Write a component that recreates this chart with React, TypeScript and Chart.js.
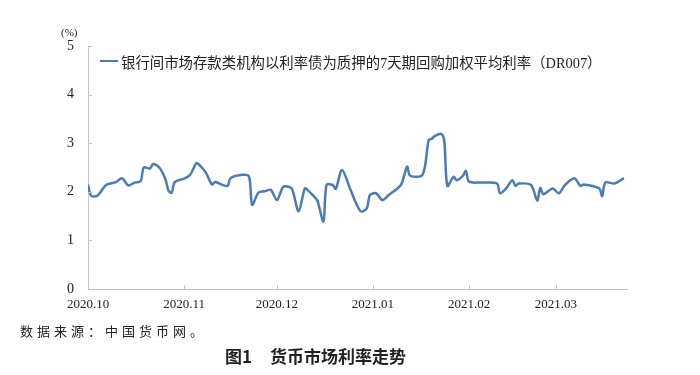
import React, { useEffect, useRef } from "react";
import { Chart, registerables } from "chart.js";

Chart.register(...registerables);

// DR007 daily readings (date, %)
const dates: string[] = [
  "2020-10-01", "2020-10-02", "2020-10-04", "2020-10-06", "2020-10-07", "2020-10-10",
  "2020-10-12", "2020-10-14", "2020-10-16", "2020-10-18", "2020-10-19", "2020-10-21",
  "2020-10-22", "2020-10-24", "2020-10-26", "2020-10-27", "2020-10-28", "2020-10-29",
  "2020-11-01", "2020-11-03", "2020-11-05", "2020-11-06", "2020-11-08", "2020-11-10",
  "2020-11-11", "2020-11-15", "2020-11-16", "2020-11-20", "2020-11-22", "2020-11-23",
  "2020-11-25", "2020-11-27", "2020-11-29", "2020-12-01", "2020-12-03", "2020-12-05",
  "2020-12-06", "2020-12-08", "2020-12-10", "2020-12-11", "2020-12-13", "2020-12-14",
  "2020-12-16", "2020-12-17", "2020-12-19", "2020-12-20", "2020-12-22", "2020-12-25",
  "2020-12-28", "2020-12-30", "2020-12-31", "2021-01-02", "2021-01-04", "2021-01-06",
  "2021-01-10", "2021-01-12", "2021-01-13", "2021-01-17", "2021-01-19", "2021-01-20",
  "2021-01-21", "2021-01-23", "2021-01-24", "2021-01-25", "2021-01-27", "2021-01-28",
  "2021-01-30", "2021-01-31", "2021-02-01", "2021-02-05", "2021-02-10", "2021-02-11",
  "2021-02-13", "2021-02-15", "2021-02-16", "2021-02-17", "2021-02-21", "2021-02-23",
  "2021-02-24", "2021-02-25", "2021-02-28", "2021-03-02", "2021-03-04", "2021-03-07",
  "2021-03-09", "2021-03-10", "2021-03-15", "2021-03-16", "2021-03-17", "2021-03-20",
  "2021-03-23",
];
const dr007: number[] = [
  2.15, 1.92, 1.92, 2.08, 2.15, 2.2,
  2.28, 2.13, 2.19, 2.22, 2.5, 2.48,
  2.57, 2.5, 2.26, 2.02, 1.98, 2.2,
  2.27, 2.35, 2.59, 2.55, 2.4, 2.15,
  2.2, 2.12, 2.28, 2.35, 2.31, 1.73,
  1.98, 2.01, 2.04, 1.83, 2.1, 2.1,
  2.04, 1.6, 2.07, 2.03, 1.9, 1.83,
  1.39, 2.14, 2.14, 2.06, 2.45, 2.0,
  1.6, 1.66, 1.93, 1.97, 1.83, 1.93,
  2.14, 2.52, 2.33, 2.35, 3.07, 3.09,
  3.15, 3.19, 3.05, 2.12, 2.31, 2.24,
  2.33, 2.43, 2.21, 2.19, 2.17, 1.97,
  2.07, 2.24, 2.12, 2.17, 2.14, 1.82,
  2.08, 1.95, 2.07, 1.97, 2.14, 2.28,
  2.12, 2.15, 2.07, 1.91, 2.19, 2.17,
  2.28,
];

const tickDates: string[] = ["2020-10-01", "2020-11-01", "2020-12-01", "2021-01-01", "2021-02-01", "2021-03-01"];
const tickLabels: string[] = ["2020.10", "2020.11", "2020.12", "2021.01", "2021.02", "2021.03"];
const axisEndDate = "2021-03-24";
const yTicks: number[] = [0, 1, 2, 3, 4, 5];

const seriesName = "银行间市场存款类机构以利率债为质押的7天期回购加权平均利率（DR007）";
const sourceNote = "数据来源：中国货币网。";
const figureTitle = "图1";
const figureName = "货币市场利率走势";

const ORIGIN = Date.UTC(2020, 9, 1);
function dayOf(s: string): number {
  const [y, m, d] = s.split("-").map(Number);
  return Math.round((Date.UTC(y, m - 1, d) - ORIGIN) / 86400000);
}

const LINE = "#4a7cb8";
const AXIS = "#c4c4c4";
const SERIF = "'Liberation Serif', 'Times New Roman', serif";

const innerTicks = {
  id: "innerTicks",
  afterDraw(chart: any) {
    const { ctx, chartArea, scales } = chart;
    ctx.save();
    ctx.strokeStyle = AXIS;
    ctx.lineWidth = 1;
    scales.x.ticks.forEach((t: any) => {
      const px = Math.round(scales.x.getPixelForValue(t.value)) + 0.5;
      ctx.beginPath();
      ctx.moveTo(px, chartArea.bottom);
      ctx.lineTo(px, chartArea.bottom - 4);
      ctx.stroke();
    });
    scales.y.ticks.forEach((t: any) => {
      const py = Math.round(scales.y.getPixelForValue(t.value)) + 0.5;
      ctx.beginPath();
      ctx.moveTo(chartArea.left, py);
      ctx.lineTo(chartArea.left + 4, py);
      ctx.stroke();
    });
    ctx.restore();
  },
};

export default function App() {
  const ref = useRef<HTMLCanvasElement | null>(null);

  useEffect(() => {
    if (!ref.current) return;
    const points = dates.map((d, i) => ({ x: dayOf(d), y: dr007[i] }));
    const tickDays = tickDates.map(dayOf);
    const chart = new Chart(ref.current, {
      type: "line",
      data: {
        datasets: [
          {
            label: seriesName,
            data: points,
            borderColor: LINE,
            borderWidth: 2.5,
            pointRadius: 0,
            tension: 0.3,
            fill: false,
          },
        ],
      },
      options: {
        responsive: false,
        animation: false,
        devicePixelRatio: 1,
        layout: { padding: { left: 0, right: 73, top: 46, bottom: 56 } },
        plugins: { legend: { display: false }, tooltip: { enabled: false } },
        scales: {
          x: {
            type: "linear",
            min: 0,
            max: dayOf(axisEndDate),
            afterBuildTicks: (scale: any) => {
              scale.ticks = tickDays.map((v) => ({ value: v }));
            },
            afterFit: (scale: any) => {
              scale.height = 30;
            },
            grid: { display: false, drawTicks: false },
            border: { display: true, color: AXIS, width: 1 },
            ticks: {
              autoSkip: false,
              maxRotation: 0,
              padding: 8,
              color: "#222",
              font: { family: SERIF, size: 13 },
              callback: (v: any) => {
                const i = tickDays.indexOf(Number(v));
                return i >= 0 ? tickLabels[i] : "";
              },
            },
          },
          y: {
            min: 0,
            max: 5,
            afterBuildTicks: (scale: any) => {
              scale.ticks = yTicks.map((v) => ({ value: v }));
            },
            afterFit: (scale: any) => {
              scale.width = 88;
            },
            grid: { display: false, drawTicks: false },
            border: { display: true, color: AXIS, width: 1 },
            ticks: {
              padding: 14,
              color: "#222",
              font: { family: SERIF, size: 14 },
            },
          },
        },
      },
      plugins: [innerTicks],
    });
    return () => chart.destroy();
  }, []);

  const cjk = "'Liberation Serif', 'Noto Sans CJK SC', serif";
  return (
    <div style={{ position: "fixed", left: 0, top: 0, width: 700, height: 375, background: "#fff", overflow: "hidden" }}>
      <canvas ref={ref} width={700} height={375} style={{ position: "absolute", left: 0, top: 0, width: 700, height: 375 }} />
      <div style={{ position: "absolute", left: 61, top: 26, fontFamily: SERIF, fontSize: 11, color: "#222" }}>(%)</div>
      <div style={{ position: "absolute", left: 100, top: 52, display: "flex", alignItems: "center", height: 18 }}>
        <div style={{ width: 18, height: 2.5, background: LINE, marginRight: 3 }} />
        <span style={{ fontFamily: cjk, fontSize: 14.4, color: "#222", whiteSpace: "nowrap" }}>{seriesName}</span>
      </div>
      <div style={{ position: "absolute", left: 20, top: 321, fontFamily: "'Noto Sans CJK SC', sans-serif", fontSize: 13, letterSpacing: 4, color: "#222", whiteSpace: "nowrap" }}>
        {sourceNote}
      </div>
      <div style={{ position: "absolute", left: 225, top: 343, fontFamily: "'Noto Sans CJK SC', sans-serif", fontSize: 17, fontWeight: 700, color: "#222", whiteSpace: "nowrap" }}>
        <span>{figureTitle}</span>
        <span style={{ marginLeft: 18 }}>{figureName}</span>
      </div>
    </div>
  );
}
